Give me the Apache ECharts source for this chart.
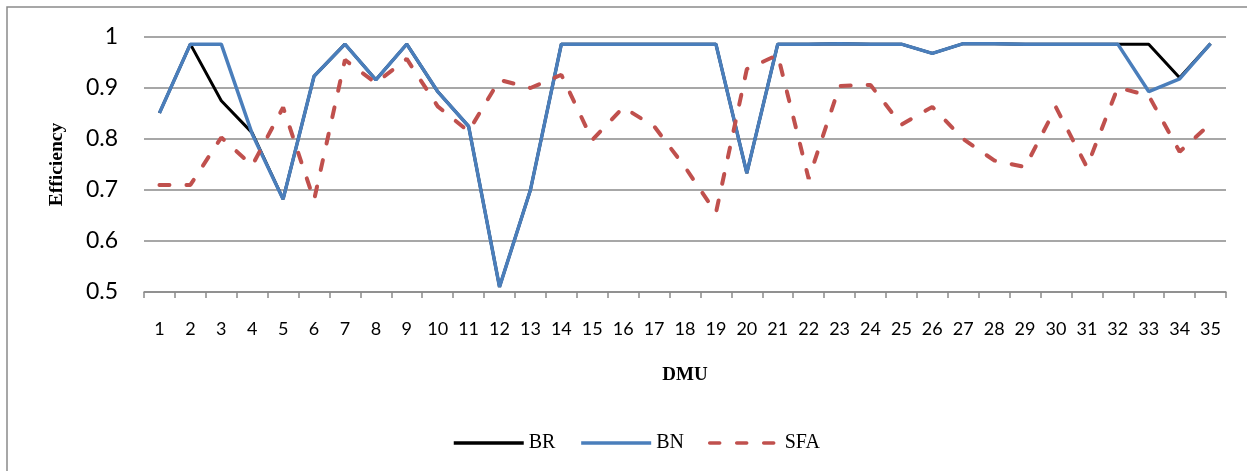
<!DOCTYPE html>
<html>
<head>
<meta charset="utf-8">
<script src="https://cdn.jsdelivr.net/npm/echarts@6/dist/echarts.min.js"></script>
<style>
  html, body { margin: 0; padding: 0; background: #fff; }
  #chart { width: 1247px; height: 471px; }
</style>
</head>
<body>
<div id="chart"></div>
<script>
// Efficiency scores of 35 decision-making units under three methods
const dmus = Array.from({ length: 35 }, (_, i) => String(i + 1));

const br = [0.851, 0.986, 0.875, 0.812, 0.682, 0.923, 0.986, 0.916, 0.986, 0.893,
            0.825, 0.510, 0.700, 0.986, 0.986, 0.986, 0.986, 0.986, 0.986, 0.733,
            0.986, 0.986, 0.987, 0.986, 0.986, 0.968, 0.987, 0.987, 0.986, 0.986,
            0.986, 0.986, 0.986, 0.920, 0.987];

const bn = [0.851, 0.986, 0.986, 0.810, 0.682, 0.923, 0.986, 0.916, 0.986, 0.893,
            0.825, 0.510, 0.700, 0.986, 0.986, 0.986, 0.986, 0.986, 0.986, 0.733,
            0.986, 0.986, 0.987, 0.986, 0.986, 0.968, 0.987, 0.987, 0.986, 0.986,
            0.986, 0.986, 0.893, 0.918, 0.987];

const sfa = [0.710, 0.710, 0.803, 0.748, 0.862, 0.680, 0.955, 0.910, 0.957, 0.864,
             0.815, 0.916, 0.900, 0.926, 0.798, 0.862, 0.825, 0.745, 0.655, 0.937,
             0.965, 0.722, 0.904, 0.906, 0.828, 0.863, 0.800, 0.758, 0.745, 0.862,
             0.745, 0.901, 0.885, 0.775, 0.830];

const yTicks = { min: 0.5, max: 1, step: 0.1 };

const gridGray = '#8a8a8a';
const sans = 'Lato';
const serif = 'Liberation Serif';

const chart = echarts.init(document.getElementById('chart'), null, { renderer: 'canvas' });

chart.setOption({
  backgroundColor: '#fff',
  animation: false,
  graphic: [{
    type: 'rect',
    shape: { x: 7, y: 7, width: 1300, height: 520 },
    style: { fill: 'none', stroke: gridGray, lineWidth: 1.5 },
    silent: true,
    z: -1
  }],
  grid: { left: 144, right: 21, top: 37, bottom: 179 },
  legend: {
    left: 447,
    top: 428,
    itemWidth: 70,
    itemHeight: 16,
    itemGap: 24,
    itemStyle: { opacity: 0 },
    lineStyle: { width: 3.5 },
    textStyle: { fontFamily: serif, fontSize: 20, color: '#000' },
    data: ['BR', 'BN', 'SFA']
  },
  xAxis: {
    type: 'category',
    data: dmus,
    boundaryGap: true,
    name: 'DMU',
    nameLocation: 'middle',
    nameGap: 74,
    nameTextStyle: { fontFamily: serif, fontWeight: 'bold', fontSize: 19, color: '#000' },
    axisLine: { lineStyle: { color: gridGray, width: 1.5 } },
    axisTick: { show: true, length: 6, lineStyle: { color: gridGray, width: 1.5 } },
    axisLabel: { fontFamily: sans, fontSize: 18, color: '#000', margin: 28, interval: 0 },
    splitLine: { show: false }
  },
  yAxis: {
    type: 'value',
    min: yTicks.min,
    max: yTicks.max,
    interval: yTicks.step,
    name: 'Efficiency',
    nameLocation: 'middle',
    nameRotate: 90,
    nameGap: 77,
    nameTextStyle: { fontFamily: serif, fontWeight: 'bold', fontSize: 19.5, color: '#000' },
    axisLine: { show: false },
    axisTick: { show: false },
    axisLabel: {
      fontFamily: sans, fontSize: 23, color: '#000', margin: 26,
      formatter: v => String(Math.round(v * 10) / 10)
    },
    splitLine: { lineStyle: { color: gridGray, width: 1.5 } }
  },
  series: [
    {
      name: 'BR', type: 'line', data: br, symbol: 'none',
      lineStyle: { color: '#000000', width: 3 },
      itemStyle: { color: '#000000' }
    },
    {
      name: 'BN', type: 'line', data: bn, symbol: 'none',
      lineStyle: { color: '#4a7ebb', width: 3.5 },
      itemStyle: { color: '#4a7ebb' }
    },
    {
      name: 'SFA', type: 'line', data: sfa, symbol: 'none',
      lineStyle: { color: '#c0504d', width: 4, type: [10, 17], cap: 'round' },
      itemStyle: { color: '#c0504d' }
    }
  ]
});
</script>
</body>
</html>
